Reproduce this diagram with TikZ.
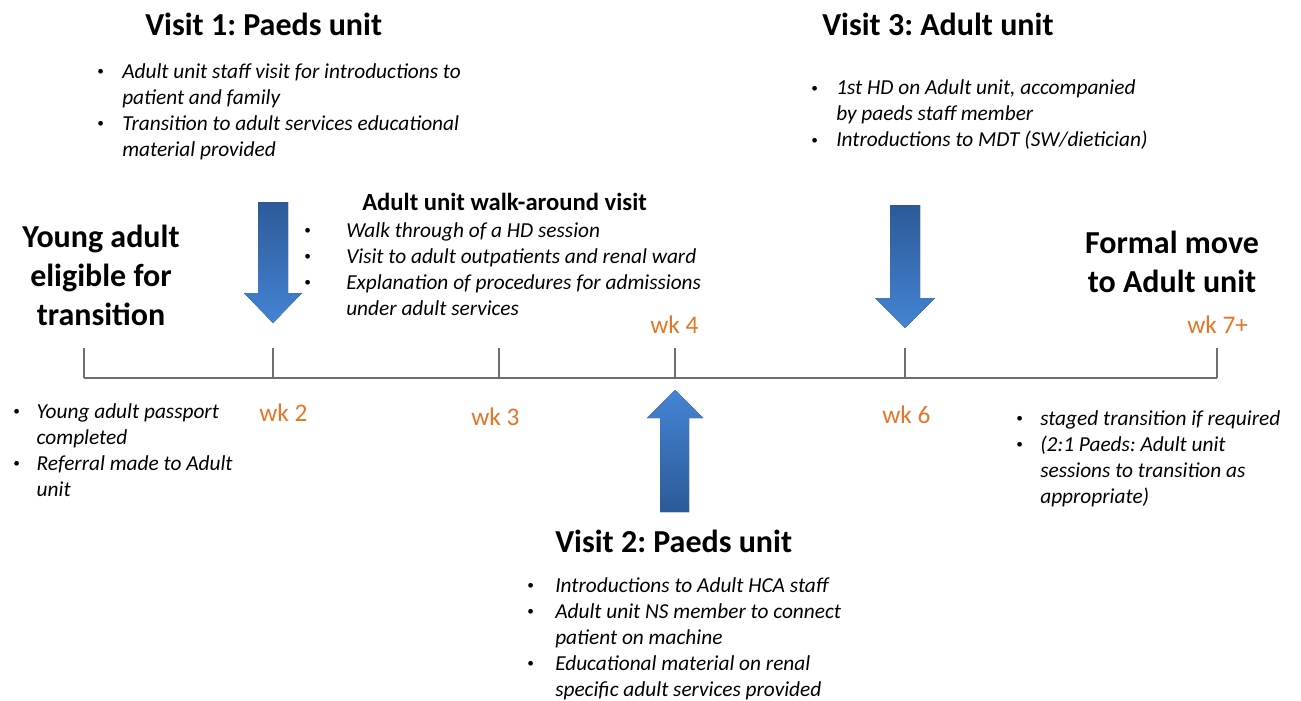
\documentclass[tikz,border=0pt]{standalone}
\usepackage{fontspec}
\setmainfont{Carlito}
\usepackage{array}
\frenchspacing
\definecolor{wkorange}{RGB}{228,118,40}
\definecolor{arrdark}{RGB}{44,90,152}
\definecolor{arrlight}{RGB}{68,132,212}
\definecolor{axisgray}{RGB}{110,110,110}
\newcommand\bfs{\fontsize{24}{29.5}\selectfont\bfseries}
\newcommand\ifs{\fontsize{16}{19.5}\selectfont\itshape}
\newcommand\bu[1]{\makebox[#1][l]{\hspace{1.5pt}\raisebox{1.6pt}{\upshape\fontsize{10}{10}\selectfont\textbullet}}}
\begin{document}
\begin{tikzpicture}[x=0.75pt,y=-0.75pt,
  title/.style={inner sep=0pt,anchor=base west,font=\bfs},
  bigtext/.style={inner sep=0pt,anchor=base,font=\bfs},
  blist/.style={inner sep=0pt,anchor=base west,font=\ifs},
  wklabel/.style={inner sep=0pt,anchor=base west,font=\fontsize{19}{23}\selectfont,text=wkorange},
  axisline/.style={draw=axisgray,line width=1.1pt},
  downarr/.style={top color=arrdark,bottom color=arrlight,draw=none},
  uparr/.style={top color=arrlight,bottom color=arrdark,draw=none}]
\useasboundingbox (0,0) rectangle (1301,700);

% titles
\node[title] (v1t) at (145,35) {Visit 1: Paeds unit};
\node[title] (v3t) at (822,35) {Visit 3: Adult unit};
\node[title] (v2t) at (555,552) {Visit 2: Paeds unit};
\node[inner sep=0pt,anchor=base west,font=\fontsize{18.5}{22}\selectfont\bfseries] (walkt) at (362,210) {Adult unit walk-around visit};

\node[bigtext] (ya) at (101,247) {\begin{tabular}[t]{@{}c@{}}Young adult\\eligible for\\transition\end{tabular}};
\node[bigtext] (fm) at (1172,253) {\begin{tabular}[t]{@{}c@{}}Formal move\\to Adult unit\end{tabular}};

% bullet lists
\node[blist] (v1l) at (95,78) {\begin{tabular}[t]{@{}l@{}l@{}}\bu{20.25pt}&Adult unit staff visit for introductions to\\&patient and family\\\bu{20.25pt}&Transition to adult services educational\\&material provided\end{tabular}};
\node[blist] (v3l) at (809,94.5) {\begin{tabular}[t]{@{}l@{}l@{}}\bu{20.25pt}&1st HD on Adult unit, accompanied\\&by paeds staff member\\\bu{20.25pt}&Introductions to MDT (SW/dietician)\end{tabular}};
\node[blist] (wl) at (302,237) {\begin{tabular}[t]{@{}l@{}l@{}}\bu{33pt}&Walk through of a HD session\\\bu{33pt}&Visit to adult outpatients and renal ward\\\bu{33pt}&Explanation of procedures for admissions\\&under adult services\end{tabular}};
\node[blist] (bl) at (11,418) {\begin{tabular}[t]{@{}l@{}l@{}}\bu{19.1pt}&Young adult passport\\&completed\\\bu{19.1pt}&Referral made to Adult\\&unit\end{tabular}};
\node[blist] (br) at (1014,425) {\begin{tabular}[t]{@{}l@{}l@{}}\bu{19.5pt}&staged transition if required\\\bu{19.5pt}&(2:1 Paeds: Adult unit\\&sessions to transition as\\&appropriate)\end{tabular}};
\node[blist] (v2l) at (525,592) {\begin{tabular}[t]{@{}l@{}l@{}}\bu{22.5pt}&Introductions to Adult HCA staff\\\bu{22.5pt}&Adult unit NS member to connect\\&patient on machine\\\bu{22.5pt}&Educational material on renal\\&specific adult services provided\end{tabular}};

% week labels
\node[wklabel] (wk2) at (259,421) {wk 2};
\node[wklabel] (wk3) at (471,425) {wk 3};
\node[wklabel] (wk4) at (650,333) {wk 4};
\node[wklabel] (wk6) at (882,423) {wk 6};
\node[wklabel] (wk7) at (1187,333) {wk 7+};

% timeline
\coordinate (t0) at (84,378);
\coordinate (t1) at (273,378);
\coordinate (t2) at (499,378);
\coordinate (t3) at (675,378);
\coordinate (t4) at (905,378);
\coordinate (t5) at (1217,378);
\draw[axisline] (t0) -- (t5);
\foreach \t in {t0,t1,t2,t3,t4,t5}
  \draw[axisline] (\t) -- ++(0,-30);

% arrows
\fill[downarr] (258,202) -- (288,202) -- (288,293) -- (302,293) -- (273,323) -- (244,293) -- (258,293) -- cycle;
\fill[downarr] (890,205) -- (920,205) -- (920,298) -- (935,298) -- (905,328) -- (875,298) -- (890,298) -- cycle;
\fill[uparr] (675,390) -- (703,418) -- (689,418) -- (689,512) -- (660,512) -- (660,418) -- (647,418) -- cycle;
\end{tikzpicture}
\end{document}
